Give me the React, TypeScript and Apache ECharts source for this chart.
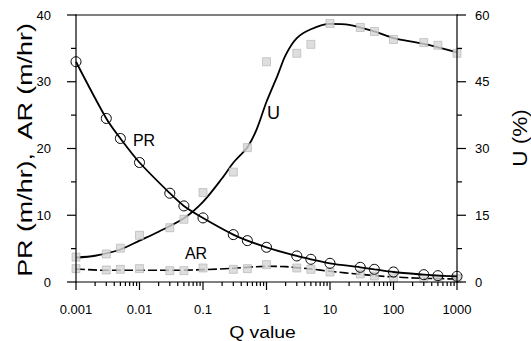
import React, { useEffect, useRef } from "react";
import * as echarts from "echarts";

// Q values at which measurements were taken
const Q_POINTS = [0.001, 0.003, 0.005, 0.01, 0.03, 0.05, 0.1, 0.3, 0.5, 1, 3, 5, 10, 30, 50, 100, 300, 500, 1000];
// PR (m/hr) measured
const PR_VALUES = [33.0, 24.5, 21.5, 17.9, 13.3, 11.4, 9.6, 7.1, 6.2, 5.2, 3.9, 3.4, 2.8, 2.2, 1.9, 1.5, 1.1, 0.95, 0.85];
// AR (m/hr) measured
const AR_VALUES = [2.0, 1.8, 1.9, 2.0, 1.7, 1.7, 2.1, 1.9, 2.0, 2.6, 2.1, 1.9, 1.5, 1.2, 0.9, 0.6, 0.5, 0.5, 0.5];
// U (%) measured
const U_VALUES = [5.6, 6.3, 7.6, 10.5, 12.2, 14.1, 20.1, 24.7, 30.2, 49.5, 51.4, 53.4, 58.1, 57.2, 56.3, 54.5, 53.8, 53.2, 51.4];

// fitted curves
const U_FIT_Q = [0.001, 0.002, 0.005, 0.01, 0.02, 0.05, 0.1, 0.2, 0.3, 0.5, 0.7, 1, 1.5, 2, 3, 5, 10, 20, 50, 100, 300, 1000];
const U_FIT = [5.5, 5.9, 7.3, 9.3, 11.3, 14.3, 18.0, 23.3, 26.8, 30.3, 34.3, 40.5, 46.5, 51.0, 54.8, 56.8, 58.0, 57.8, 56.3, 54.8, 53.5, 51.6];
const AR_FIT_Q = [0.001, 0.003, 0.01, 0.03, 0.1, 0.3, 1, 2, 5, 10, 30, 100, 300, 1000];
const AR_FIT = [1.95, 1.75, 1.75, 1.75, 1.85, 2.05, 2.35, 2.3, 1.95, 1.6, 1.15, 0.75, 0.55, 0.45];

// axis ranges and ticks
const X_RANGE = [0.001, 1000];
const LEFT_RANGE = [0, 40];
const RIGHT_RANGE = [0, 60];
const X_MAJOR = [0.001, 0.01, 0.1, 1, 10, 100, 1000];
const X_MINOR_STEPS = [2, 3, 4, 5, 6, 7, 8, 9];
const LEFT_MAJOR = [0, 10, 20, 30, 40];
const LEFT_MINOR = [5, 15, 25, 35];
const RIGHT_MAJOR = [0, 15, 30, 45, 60];
const RIGHT_MINOR = [7.5, 22.5, 37.5, 52.5];

const FONT = "Liberation Sans, Arial, sans-serif";

export default function App() {
  const ref = useRef<HTMLDivElement>(null);
  useEffect(() => {
    if (!ref.current) return;
    const chart = echarts.init(ref.current, null, { renderer: "svg" });
    const xMinor: number[] = [];
    X_MAJOR.slice(0, -1).forEach((d) => X_MINOR_STEPS.forEach((s) => xMinor.push(Number((d * s).toPrecision(6)))));
    const fmt = (v: number) => String(Number(Number(v).toPrecision(6)));
    const pair = (xs: number[], ys: number[]) => xs.map((x, i) => [x, ys[i]]);
    const grayMarker = {
      symbol: "rect",
      symbolSize: 8,
      itemStyle: { color: "#d6d6d6", borderColor: "#a9a9a9", borderWidth: 0.7 },
    };
    const TW = 1.2;

    const texts: any[] = [
      {
        type: "text",
        x: 24.5,
        y: 150,
        rotation: Math.PI / 2,
        scaleX: 1.28,
        style: { text: "PR (m/hr),  AR (m/hr)", font: `21px ${FONT}`, fill: "#000", align: "center", verticalAlign: "middle" },
      },
      {
        type: "text",
        x: 520,
        y: 138,
        rotation: Math.PI / 2,
        scaleX: 1.13,
        style: { text: "U (%)", font: `20px ${FONT}`, fill: "#000", align: "center", verticalAlign: "middle" },
      },
      {
        type: "text",
        x: 262.5,
        y: 332,
        scaleX: 1.14,
        style: { text: "Q value", font: `17px ${FONT}`, fill: "#000", align: "center", verticalAlign: "middle" },
      },
      {
        type: "text",
        x: 144,
        y: 140,
        style: { text: "PR", font: `16px ${FONT}`, fill: "#000", align: "center", verticalAlign: "middle" },
      },
      {
        type: "text",
        x: 273.5,
        y: 113.3,
        style: { text: "U", font: `18px ${FONT}`, fill: "#000", align: "center", verticalAlign: "middle" },
      },
      {
        type: "text",
        x: 196,
        y: 253.3,
        style: { text: "AR", font: `16px ${FONT}`, fill: "#000", align: "center", verticalAlign: "middle" },
      },
    ];

    chart.setOption({
      animation: false,
      backgroundColor: "#fff",
      textStyle: { fontFamily: FONT },
      grid: { left: 76, right: 74, top: 15, bottom: 59, show: false },
      xAxis: [
        {
          type: "log",
          logBase: 10,
          min: X_RANGE[0],
          max: X_RANGE[1],
          axisLine: { show: false },
          axisTick: { show: false },
          axisLabel: { customValues: X_MAJOR, formatter: fmt, color: "#000", fontSize: 13, fontFamily: FONT, margin: 21 },
          splitLine: { show: false },
        },
      ],
      yAxis: [
        {
          type: "value",
          min: LEFT_RANGE[0],
          max: LEFT_RANGE[1],
          interval: 10,
          position: "left",
          axisLine: { show: false },
          axisTick: { show: false },
          axisLabel: { color: "#000", fontSize: 13, fontFamily: FONT, margin: 25 },
          splitLine: { show: false },
        },
        {
          type: "value",
          min: RIGHT_RANGE[0],
          max: RIGHT_RANGE[1],
          interval: 15,
          position: "right",
          axisLine: { show: false },
          axisTick: { show: false },
          axisLabel: { color: "#000", fontSize: 13, fontFamily: FONT, margin: 18 },
          splitLine: { show: false },
        },
      ],
      series: [
        {
          name: "U fit",
          type: "line",
          yAxisIndex: 1,
          data: pair(U_FIT_Q, U_FIT),
          smooth: 0.3,
          symbol: "none",
          lineStyle: { color: "#000", width: 1.8 },
          z: 2,
        },
        {
          name: "AR fit",
          type: "line",
          yAxisIndex: 0,
          data: pair(AR_FIT_Q, AR_FIT),
          smooth: 0.3,
          symbol: "none",
          lineStyle: { color: "#000", width: 1.6, type: [9, 3] },
          z: 2,
        },
        {
          name: "PR",
          type: "line",
          yAxisIndex: 0,
          data: pair(Q_POINTS, PR_VALUES),
          smooth: 0.3,
          symbol: "circle",
          symbolSize: 10,
          itemStyle: { color: "transparent", borderColor: "#000", borderWidth: 1 },
          lineStyle: { color: "#000", width: 1.8 },
          z: 4,
        },
        {
          name: "U",
          type: "scatter",
          yAxisIndex: 1,
          data: pair(Q_POINTS, U_VALUES),
          ...grayMarker,
          z: 3,
        },
        {
          name: "AR",
          type: "scatter",
          yAxisIndex: 0,
          data: pair(Q_POINTS, AR_VALUES),
          ...grayMarker,
          z: 3,
        },
      ],
      graphic: texts,
    });

    // frame and ticks: positions taken from the chart's own axis scales
    const px = (q: number) => chart.convertToPixel({ xAxisIndex: 0 }, q) as number;
    const pyL = (v: number) => chart.convertToPixel({ yAxisIndex: 0 }, v) as number;
    const pyR = (v: number) => chart.convertToPixel({ yAxisIndex: 1 }, v) as number;
    const x0 = px(X_RANGE[0]);
    const x1 = px(X_RANGE[1]);
    const y0 = pyL(LEFT_RANGE[0]);
    const y1 = pyL(LEFT_RANGE[1]);
    const bar = (x: number, y: number, w: number, h: number) => ({
      type: "rect",
      shape: { x, y, width: w, height: h },
      style: { fill: "#000" },
      z: 10,
    });
    const marks: any[] = [
      bar(x0 - TW / 2, y1 - TW / 2, x1 - x0 + TW, TW),
      bar(x0 - TW / 2, y0 - TW / 2, x1 - x0 + TW, TW),
      bar(x0 - TW / 2, y1 - TW / 2, TW, y0 - y1 + TW),
      bar(x1 - TW / 2, y1 - TW / 2, TW, y0 - y1 + TW),
    ];
    X_MAJOR.forEach((q) => marks.push(bar(px(q) - TW / 2, y0, TW, 8)));
    xMinor.forEach((q) => marks.push(bar(px(q) - TW / 2, y0, TW, 4)));
    LEFT_MAJOR.forEach((v) => marks.push(bar(x0 - 9, pyL(v) - TW / 2, 9, TW)));
    LEFT_MINOR.forEach((v) => marks.push(bar(x0 - 5, pyL(v) - TW / 2, 5, TW)));
    RIGHT_MAJOR.forEach((v) => marks.push(bar(x1, pyR(v) - TW / 2, 9, TW)));
    RIGHT_MINOR.forEach((v) => marks.push(bar(x1, pyR(v) - TW / 2, 5, TW)));

    chart.setOption({ graphic: [...texts, ...marks] });
    return () => chart.dispose();
  }, []);
  return <div ref={ref} style={{ width: 531, height: 341, position: "absolute", left: 0, top: 0 }} />;
}
